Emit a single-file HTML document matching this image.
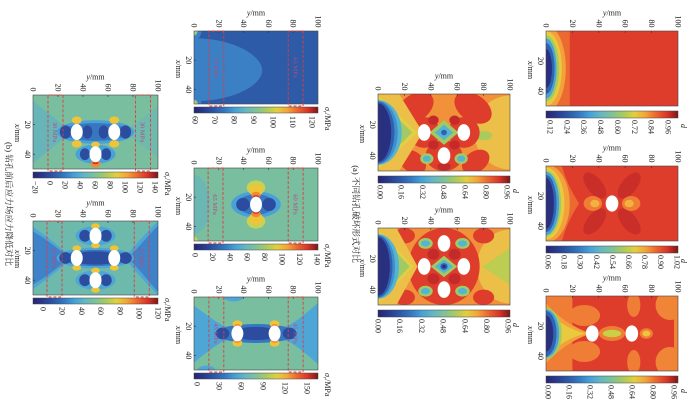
<!DOCTYPE html>
<html><head><meta charset="utf-8">
<style>
html,body{margin:0;padding:0;background:#fff;}
body{width:700px;height:406px;overflow:hidden;}
.t{font-family:"Liberation Serif",serif;font-size:8px;fill:#222;}
.bt{font-family:"Liberation Serif",serif;font-size:6.5px;fill:#b44b82;}
.cap{font-family:"Liberation Serif","Noto Serif CJK SC",serif;font-size:8.6px;fill:#222;}
</style></head><body>
<svg width="700" height="406" viewBox="0 0 700 406" xmlns="http://www.w3.org/2000/svg">
<defs>
<clipPath id="cp"><rect width="50" height="100"/></clipPath>
<linearGradient id="cb" x1="0" y1="1" x2="0" y2="0">
<stop offset="0" stop-color="#26246f"/><stop offset="0.08" stop-color="#2a3a8e"/><stop offset="0.17" stop-color="#2c5aa9"/><stop offset="0.25" stop-color="#3478c2"/><stop offset="0.33" stop-color="#45a0d8"/><stop offset="0.42" stop-color="#66b8c0"/><stop offset="0.5" stop-color="#7fc19a"/><stop offset="0.58" stop-color="#a6ca62"/><stop offset="0.67" stop-color="#e2cf3e"/><stop offset="0.75" stop-color="#f3a63a"/><stop offset="0.83" stop-color="#ec6a30"/><stop offset="0.92" stop-color="#d93329"/><stop offset="1" stop-color="#7a1818"/>
</linearGradient>
</defs>
<rect width="700" height="406" fill="#fff"/>
<g transform="translate(700,0) rotate(90)">

<!-- A1 -->
<g transform="translate(31,22)">
<g transform="scale(1.5,1.32)" clip-path="url(#cp)">
<rect width="50" height="100" fill="#de3d2c"/>
<rect y="82" width="50" height="18" fill="#ec6a31"/>
<ellipse cx="25" cy="100" rx="29" ry="15" fill="#f3a13b"/>
<ellipse cx="25" cy="100" rx="25" ry="12" fill="#e9c93e"/>
<ellipse cx="25" cy="100" rx="22" ry="10" fill="#a2ca64"/>
<ellipse cx="25" cy="100" rx="20" ry="8" fill="#48a2d8"/>
<ellipse cx="25" cy="100" rx="17" ry="6.5" fill="#2f62b0"/>
<ellipse cx="25" cy="100" rx="13" ry="4.5" fill="#29307f"/>
</g>
<rect width="75" height="132" fill="none" stroke="#444" stroke-width="0.6"/>
<path d="M0,105.6h2M0,79.2h2M0,52.8h2M0,26.4h2M30,132v-2M60,132v-2" stroke="#333" stroke-width="0.6"/>
<g class="t" text-anchor="end"><text x="-3.5" y="134.5">0</text><text x="-3.5" y="108.1">20</text><text x="-3.5" y="81.7">40</text><text x="-3.5" y="55.3">60</text><text x="-3.5" y="28.9">80</text><text x="-3.5" y="2.5">100</text></g>
<g class="t" text-anchor="middle"><text x="30" y="140">20</text><text x="60" y="140">40</text><text x="39" y="150"><tspan font-style="italic">x</tspan>/mm</text></g>
<text class="t" text-anchor="middle" transform="translate(-15.5,66) rotate(-90)"><tspan font-style="italic">y</tspan>/mm</text>
<rect x="80" width="7" height="132" fill="url(#cb)" stroke="#444" stroke-width="0.5"/>
<g class="t"><text x="89" y="130.5">0.12</text><text x="89" y="113.6">0.24</text><text x="89" y="96.8">0.36</text><text x="89" y="79.9">0.48</text><text x="89" y="63.1">0.60</text><text x="89" y="46.2">0.72</text><text x="89" y="29.3">0.84</text><text x="89" y="12.5">0.96</text><text x="93" y="-3" font-style="italic">d</text></g>
</g>

<!-- A2 -->
<g transform="translate(166,22)">
<g transform="scale(1.5,1.32)" clip-path="url(#cp)">
<rect width="50" height="100" fill="#de3d2c"/>
<ellipse cx="13" cy="63" rx="5.5" ry="11" fill="#c92e29" transform="rotate(45 13 63)"/>
<ellipse cx="37" cy="37" rx="5.5" ry="11" fill="#c92e29" transform="rotate(45 37 37)"/>
<ellipse cx="37" cy="63" rx="5.5" ry="11" fill="#c92e29" transform="rotate(-45 37 63)"/>
<ellipse cx="13" cy="37" rx="5.5" ry="11" fill="#c92e29" transform="rotate(-45 13 37)"/>
<ellipse cx="25" cy="64.5" rx="5" ry="7" fill="#ef7d35"/>
<ellipse cx="25" cy="35.5" rx="5" ry="7" fill="#ef7d35"/>
<ellipse cx="25" cy="63" rx="2.5" ry="3.5" fill="#f3b23e"/>
<ellipse cx="25" cy="37" rx="2.5" ry="3.5" fill="#f3b23e"/>
<path d="M0,100 L0,88 Q13,84 25,75 Q37,84 50,88 L50,100 Z" fill="#ec6a31"/>
<ellipse cx="25" cy="100" rx="26" ry="18" fill="#f3a13b"/>
<ellipse cx="25" cy="100" rx="24" ry="14" fill="#e9c93e"/>
<ellipse cx="25" cy="100" rx="22" ry="11.5" fill="#a2ca64"/>
<ellipse cx="25" cy="100" rx="21" ry="10" fill="#48a2d8"/>
<ellipse cx="25" cy="100" rx="19" ry="8" fill="#2f62b0"/>
<ellipse cx="25" cy="100" rx="17" ry="6" fill="#29307f"/>
<ellipse cx="25" cy="50" rx="5.4" ry="4.8" fill="#fff"/>
</g>
<rect width="75" height="132" fill="none" stroke="#444" stroke-width="0.6"/>
<path d="M0,105.6h2M0,79.2h2M0,52.8h2M0,26.4h2M30,132v-2M60,132v-2" stroke="#333" stroke-width="0.6"/>
<g class="t" text-anchor="end"><text x="-3.5" y="134.5">0</text><text x="-3.5" y="108.1">20</text><text x="-3.5" y="81.7">40</text><text x="-3.5" y="55.3">60</text><text x="-3.5" y="28.9">80</text><text x="-3.5" y="2.5">100</text></g>
<g class="t" text-anchor="middle"><text x="30" y="140">20</text><text x="60" y="140">40</text><text x="39" y="150"><tspan font-style="italic">x</tspan>/mm</text></g>
<text class="t" text-anchor="middle" transform="translate(-15.5,66) rotate(-90)"><tspan font-style="italic">y</tspan>/mm</text>
<rect x="80" width="7" height="132" fill="url(#cb)" stroke="#444" stroke-width="0.5"/>
<g class="t"><text x="89" y="132.5">0.06</text><text x="89" y="116.4">0.18</text><text x="89" y="100.3">0.30</text><text x="89" y="84.2">0.42</text><text x="89" y="68.1">0.54</text><text x="89" y="52">0.66</text><text x="89" y="35.9">0.78</text><text x="89" y="19.8">0.90</text><text x="89" y="3.7">1.02</text><text x="93" y="-3" font-style="italic">d</text></g>
</g>

<!-- A3 -->
<g transform="translate(296,22)">
<g transform="scale(1.5,1.32)" clip-path="url(#cp)">
<rect width="50" height="100" fill="#de3d2c"/>
<rect y="80" width="50" height="20" fill="#ef7d35"/>
<ellipse cx="13" cy="71" rx="7" ry="12" fill="#ef7d35"/>
<ellipse cx="37" cy="71" rx="7" ry="12" fill="#ef7d35"/>
<ellipse cx="6" cy="33.5" rx="8" ry="5" fill="#ef7d35"/>
<ellipse cx="44" cy="33.5" rx="8" ry="5" fill="#ef7d35"/>
<ellipse cx="6" cy="6" rx="10" ry="11" fill="#f08437"/>
<ellipse cx="44" cy="6" rx="10" ry="11" fill="#f08437"/>
<rect width="50" height="3" fill="#f08437"/>
<ellipse cx="25" cy="50" rx="5" ry="10" fill="#ef7d35"/>
<ellipse cx="25" cy="50" rx="2.5" ry="7" fill="#c9d046"/>
<ellipse cx="25" cy="24" rx="3.5" ry="5" fill="#ef7d35"/>
<ellipse cx="25" cy="24" rx="2" ry="3" fill="#ecc43e"/>
<path d="M5,100 Q19,86 25,66 Q31,86 45,100 Z" fill="#f3a13b"/>
<path d="M9,100 Q21,88 25,70 Q29,88 41,100 Z" fill="#e9c93e"/>
<ellipse cx="25" cy="100" rx="17" ry="12" fill="#a2ca64"/>
<ellipse cx="25" cy="100" rx="16" ry="10" fill="#48a2d8"/>
<ellipse cx="25" cy="100" rx="15" ry="8" fill="#2f62b0"/>
<ellipse cx="25" cy="100" rx="12" ry="5.5" fill="#29307f"/>
<ellipse cx="25" cy="65" rx="5.4" ry="4.8" fill="#fff"/>
<ellipse cx="25" cy="35" rx="5.4" ry="4.8" fill="#fff"/>
</g>
<rect width="75" height="132" fill="none" stroke="#444" stroke-width="0.6"/>
<path d="M0,105.6h2M0,79.2h2M0,52.8h2M0,26.4h2M30,132v-2M60,132v-2" stroke="#333" stroke-width="0.6"/>
<g class="t" text-anchor="end"><text x="-3.5" y="134.5">0</text><text x="-3.5" y="108.1">20</text><text x="-3.5" y="81.7">40</text><text x="-3.5" y="55.3">60</text><text x="-3.5" y="28.9">80</text><text x="-3.5" y="2.5">100</text></g>
<g class="t" text-anchor="middle"><text x="30" y="140">20</text><text x="60" y="140">40</text><text x="39" y="150"><tspan font-style="italic">x</tspan>/mm</text></g>
<text class="t" text-anchor="middle" transform="translate(-15.5,66) rotate(-90)"><tspan font-style="italic">y</tspan>/mm</text>
<rect x="80" width="7" height="132" fill="url(#cb)" stroke="#444" stroke-width="0.5"/>
<g class="t"><text x="89" y="132.5">0.00</text><text x="89" y="111.5">0.16</text><text x="89" y="90.5">0.32</text><text x="89" y="69.5">0.48</text><text x="89" y="48.5">0.64</text><text x="89" y="27.5">0.80</text><text x="89" y="6.5">0.96</text><text x="93" y="-3" font-style="italic">d</text></g>
</g>

<!-- A4 -->
<g transform="translate(94,190)">
<g transform="scale(1.54,1.32)" clip-path="url(#cp)">
<rect width="50" height="100" fill="#f1923b"/>
<ellipse cx="25" cy="0" rx="24" ry="27" fill="#ebbf48"/>
<ellipse cx="27" cy="20" rx="3" ry="6.5" fill="#a9cb5e"/>
<ellipse cx="9" cy="72" rx="9" ry="15" fill="#de3d2c" transform="rotate(-25 9 72)"/>
<ellipse cx="9" cy="28" rx="9" ry="15" fill="#de3d2c" transform="rotate(25 9 28)"/>
<ellipse cx="44" cy="74" rx="7" ry="11" fill="#de3d2c" transform="rotate(25 44 74)"/>
<ellipse cx="44" cy="26" rx="7" ry="11" fill="#de3d2c" transform="rotate(-25 44 26)"/>
<ellipse cx="25" cy="65" rx="10" ry="12" fill="#de3d2c"/>
<ellipse cx="25" cy="35" rx="10" ry="12" fill="#de3d2c"/>
<ellipse cx="40" cy="50" rx="10" ry="14" fill="#de3d2c"/>
<ellipse cx="17" cy="58" rx="3" ry="4" fill="#c42a29"/>
<ellipse cx="17" cy="42" rx="3" ry="4" fill="#c42a29"/>
<ellipse cx="33" cy="58" rx="3" ry="4" fill="#c42a29"/>
<ellipse cx="33" cy="42" rx="3" ry="4" fill="#c42a29"/>
<ellipse cx="47" cy="50" rx="2.5" ry="5" fill="#c42a29"/>
<path d="M25,39 L33,50 L25,61 L17,50 Z" fill="#a2ca64"/>
<path d="M25,43 L30,50 L25,57 L20,50 Z" fill="#55b4cf"/>
<ellipse cx="25" cy="50" rx="1.8" ry="2.2" fill="#2f62b0"/>
<ellipse cx="42" cy="63" rx="3.5" ry="5" fill="#a2ca64"/>
<ellipse cx="42" cy="63" rx="2" ry="3" fill="#55b4cf"/>
<ellipse cx="42" cy="37" rx="3.5" ry="5" fill="#a2ca64"/>
<ellipse cx="42" cy="37" rx="2" ry="3" fill="#55b4cf"/>
<path d="M0,100 L0,84 L25,66 L50,84 L50,100 Z" fill="#ebbf48"/>
<path d="M1,100 L25,70 L49,100 Z" fill="#e2cf45"/>
<path d="M3,100 L25,74 L47,100 Z" fill="#a2ca64"/>
<ellipse cx="25" cy="100" rx="21" ry="18" fill="#55b4cf"/>
<ellipse cx="25" cy="100" rx="20.5" ry="15" fill="#3f8fd0"/>
<ellipse cx="25" cy="100" rx="20" ry="12.5" fill="#2f5fae"/>
<ellipse cx="25" cy="100" rx="19" ry="10" fill="#29307f"/>
<ellipse cx="25" cy="65" rx="5.4" ry="4.8" fill="#fff"/>
<ellipse cx="25" cy="35" rx="5.4" ry="4.8" fill="#fff"/>
<ellipse cx="40" cy="50" rx="5.4" ry="4.8" fill="#fff"/>
</g>
<rect width="77" height="132" fill="none" stroke="#444" stroke-width="0.6"/>
<path d="M0,105.6h2M0,79.2h2M0,52.8h2M0,26.4h2M30.8,132v-2M61.6,132v-2" stroke="#333" stroke-width="0.6"/>
<g class="t" text-anchor="end"><text x="-3.5" y="134.5">0</text><text x="-3.5" y="108.1">20</text><text x="-3.5" y="81.7">40</text><text x="-3.5" y="55.3">60</text><text x="-3.5" y="28.9">80</text><text x="-3.5" y="2.5">100</text></g>
<g class="t" text-anchor="middle"><text x="30.8" y="140">20</text><text x="61.6" y="140">40</text><text x="40" y="150"><tspan font-style="italic">x</tspan>/mm</text></g>
<text class="t" text-anchor="middle" transform="translate(-15.5,66) rotate(-90)"><tspan font-style="italic">y</tspan>/mm</text>
<rect x="82" width="7" height="132" fill="url(#cb)" stroke="#444" stroke-width="0.5"/>
<g class="t"><text x="91" y="132.5">0.00</text><text x="91" y="111.3">0.16</text><text x="91" y="90.1">0.32</text><text x="91" y="68.9">0.48</text><text x="91" y="47.7">0.64</text><text x="91" y="26.5">0.80</text><text x="91" y="5.3">0.96</text><text x="95" y="-3" font-style="italic">d</text></g>
</g>

<!-- A5 -->
<g transform="translate(228,190)">
<g transform="scale(1.54,1.32)" clip-path="url(#cp)">
<rect width="50" height="100" fill="#f1923b"/>
<ellipse cx="25" cy="0" rx="24" ry="25" fill="#ebbf48"/>
<path d="M13,0 L37,0 L25,21 Z" fill="#bccd52"/>
<ellipse cx="25" cy="50" rx="25" ry="27" fill="#de3d2c"/>
<ellipse cx="5" cy="80" rx="5" ry="8" fill="#de3d2c"/>
<ellipse cx="45" cy="80" rx="5" ry="8" fill="#de3d2c"/>
<ellipse cx="5" cy="20" rx="5" ry="8" fill="#de3d2c"/>
<ellipse cx="45" cy="20" rx="5" ry="8" fill="#de3d2c"/>
<ellipse cx="17" cy="58" rx="3.5" ry="4.5" fill="#c42a29"/>
<ellipse cx="33" cy="58" rx="3.5" ry="4.5" fill="#c42a29"/>
<ellipse cx="17" cy="42" rx="3.5" ry="4.5" fill="#c42a29"/>
<ellipse cx="33" cy="42" rx="3.5" ry="4.5" fill="#c42a29"/>
<path d="M25,40 L32,50 L25,60 L18,50 Z" fill="#a2ca64"/>
<path d="M25,43 L29.5,50 L25,57 L20.5,50 Z" fill="#55b4cf"/>
<ellipse cx="25" cy="50" rx="2.2" ry="2.8" fill="#2f62b0"/>
<ellipse cx="25" cy="50" rx="1.1" ry="1.4" fill="#29307f"/>
<ellipse cx="10" cy="64" rx="3.5" ry="5.5" fill="#a2ca64"/>
<ellipse cx="10" cy="64" rx="2" ry="3.5" fill="#55b4cf"/>
<ellipse cx="10" cy="36" rx="3.5" ry="5.5" fill="#a2ca64"/>
<ellipse cx="10" cy="36" rx="2" ry="3.5" fill="#55b4cf"/>
<ellipse cx="41" cy="64" rx="3.5" ry="5.5" fill="#a2ca64"/>
<ellipse cx="41" cy="64" rx="2" ry="3.5" fill="#55b4cf"/>
<ellipse cx="41" cy="36" rx="3.5" ry="5.5" fill="#a2ca64"/>
<ellipse cx="41" cy="36" rx="2" ry="3.5" fill="#55b4cf"/>
<path d="M0,100 L0,86 L25,70 L50,86 L50,100 Z" fill="#ebbf48"/>
<path d="M1,100 L25,73 L49,100 Z" fill="#e2cf45"/>
<path d="M3,100 L25,76 L47,100 Z" fill="#a2ca64"/>
<ellipse cx="25" cy="100" rx="21" ry="16" fill="#55b4cf"/>
<ellipse cx="25" cy="100" rx="20.5" ry="13" fill="#3f8fd0"/>
<ellipse cx="25" cy="100" rx="20" ry="11" fill="#2f5fae"/>
<ellipse cx="25" cy="100" rx="19" ry="9" fill="#29307f"/>
<ellipse cx="10" cy="50" rx="5.4" ry="4.8" fill="#fff"/>
<ellipse cx="25" cy="65" rx="5.4" ry="4.8" fill="#fff"/>
<ellipse cx="25" cy="35" rx="5.4" ry="4.8" fill="#fff"/>
<ellipse cx="40" cy="50" rx="5.4" ry="4.8" fill="#fff"/>
</g>
<rect width="77" height="132" fill="none" stroke="#444" stroke-width="0.6"/>
<path d="M0,105.6h2M0,79.2h2M0,52.8h2M0,26.4h2M30.8,132v-2M61.6,132v-2" stroke="#333" stroke-width="0.6"/>
<g class="t" text-anchor="end"><text x="-3.5" y="134.5">0</text><text x="-3.5" y="108.1">20</text><text x="-3.5" y="81.7">40</text><text x="-3.5" y="55.3">60</text><text x="-3.5" y="28.9">80</text><text x="-3.5" y="2.5">100</text></g>
<g class="t" text-anchor="middle"><text x="30.8" y="140">20</text><text x="61.6" y="140">40</text><text x="40" y="150"><tspan font-style="italic">x</tspan>/mm</text></g>
<text class="t" text-anchor="middle" transform="translate(-15.5,66) rotate(-90)"><tspan font-style="italic">y</tspan>/mm</text>
<rect x="82" width="7" height="132" fill="url(#cb)" stroke="#444" stroke-width="0.5"/>
<g class="t"><text x="91" y="134.5">0.00</text><text x="91" y="112.8">0.16</text><text x="91" y="91.1">0.32</text><text x="91" y="69.4">0.48</text><text x="91" y="47.7">0.64</text><text x="91" y="26">0.80</text><text x="91" y="4.3">0.96</text><text x="95" y="-3" font-style="italic">d</text></g>
</g>

<text class="cap" x="214" y="347" text-anchor="middle">(a) 不同钻孔破坏形式对比</text>

<!-- B1 -->
<g transform="translate(31,382)">
<g transform="scale(1.46,1.24)" clip-path="url(#cp)">
<rect width="50" height="100" fill="#2d5ba8"/>
<path d="M5,100 C5,68 17,45 27,45 C37,45 48,68 48,100 Z" fill="#3b7fc5"/>
<ellipse cx="0" cy="100" rx="6" ry="6" fill="#3b7fc5"/>
<ellipse cx="50" cy="100" rx="6" ry="6" fill="#3b7fc5"/>
<ellipse cx="0" cy="100" rx="3" ry="3" fill="#8fc8a0"/>
<ellipse cx="50" cy="100" rx="3" ry="3" fill="#8fc8a0"/>
<ellipse cx="0" cy="100" rx="1.5" ry="1.5" fill="#e8c840"/>
<ellipse cx="50" cy="100" rx="1.5" ry="1.5" fill="#e8c840"/>
</g>
<rect width="73" height="124" fill="none" stroke="#444" stroke-width="0.6"/>
<path d="M0,99.2h2M0,74.4h2M0,49.6h2M0,24.8h2M29.2,124v-2M58.4,124v-2" stroke="#333" stroke-width="0.6"/>
<g fill="none" stroke="#e23b3b" stroke-width="0.9" stroke-dasharray="3 1.8"><rect x="0" y="94.2" width="75" height="14.9"/><rect x="0" y="14.9" width="75" height="14.9"/></g>
<g class="bt" text-anchor="middle"><text x="36.5" y="104">75 MPa</text><text x="36.5" y="24.7">65 MPa</text></g>
<g class="t" text-anchor="end"><text x="-3.5" y="126.5">0</text><text x="-3.5" y="101.7">20</text><text x="-3.5" y="76.9">40</text><text x="-3.5" y="52.1">60</text><text x="-3.5" y="27.3">80</text><text x="-3.5" y="2.5">100</text></g>
<g class="t" text-anchor="middle"><text x="29.2" y="132">20</text><text x="58.4" y="132">40</text><text x="38" y="142"><tspan font-style="italic">x</tspan>/mm</text></g>
<text class="t" text-anchor="middle" transform="translate(-15.5,62) rotate(-90)"><tspan font-style="italic">y</tspan>/mm</text>
<rect x="76" width="6" height="124" fill="url(#cb)" stroke="#444" stroke-width="0.5"/>
<g class="t"><text x="85" y="125.5">60</text><text x="85" y="106">70</text><text x="85" y="86.5">80</text><text x="85" y="67">90</text><text x="85" y="47.5">100</text><text x="85" y="28">110</text><text x="85" y="8.5">120</text>
<text x="76" y="-7"><tspan font-style="italic">σ</tspan><tspan font-size="5.5" dy="1.5" font-style="italic">r</tspan><tspan dy="-1.5">/MPa</tspan></text></g>
</g>

<!-- B2 -->
<g transform="translate(168,382)">
<g transform="scale(1.46,1.24)" clip-path="url(#cp)">
<rect width="50" height="100" fill="#78be9f"/>
<ellipse cx="25" cy="100" rx="20" ry="13" fill="#6bb7b3"/>
<ellipse cx="50" cy="100" rx="3" ry="3" fill="#c9d152"/>
<ellipse cx="25" cy="50" rx="9" ry="20" fill="#4aa1d8"/>
<ellipse cx="25" cy="50" rx="7" ry="15" fill="#3677c0"/>
<ellipse cx="25" cy="39.5" rx="4.5" ry="5.5" fill="#2b4c9f"/>
<ellipse cx="25" cy="60.5" rx="4.5" ry="5.5" fill="#2b4c9f"/>
<ellipse cx="13.5" cy="50" rx="5" ry="7.5" fill="#c9d152"/>
<ellipse cx="15.5" cy="50" rx="4" ry="5.5" fill="#eec43a"/>
<ellipse cx="18.5" cy="50" rx="2.2" ry="3.8" fill="#f08a36"/>
<ellipse cx="19.8" cy="50" rx="1.2" ry="2.6" fill="#d63328"/>
<ellipse cx="36.5" cy="50" rx="5" ry="7.5" fill="#c9d152"/>
<ellipse cx="34.5" cy="50" rx="4" ry="5.5" fill="#eec43a"/>
<ellipse cx="31.5" cy="50" rx="2.2" ry="3.8" fill="#f08a36"/>
<ellipse cx="30.2" cy="50" rx="1.2" ry="2.6" fill="#d63328"/>
<ellipse cx="25" cy="50" rx="5.4" ry="4.8" fill="#fff"/>
</g>
<rect width="73" height="124" fill="none" stroke="#444" stroke-width="0.6"/>
<path d="M0,99.2h2M0,74.4h2M0,49.6h2M0,24.8h2M29.2,124v-2M58.4,124v-2" stroke="#333" stroke-width="0.6"/>
<g fill="none" stroke="#e23b3b" stroke-width="0.9" stroke-dasharray="3 1.8"><rect x="0" y="95" width="75" height="14.9"/><rect x="0" y="14.9" width="75" height="14.9"/></g>
<g class="bt" text-anchor="middle"><text x="36.5" y="104.8">65 MPa</text><text x="36.5" y="24.7">60 MPa</text></g>
<g class="t" text-anchor="end"><text x="-3.5" y="126.5">0</text><text x="-3.5" y="101.7">20</text><text x="-3.5" y="76.9">40</text><text x="-3.5" y="52.1">60</text><text x="-3.5" y="27.3">80</text><text x="-3.5" y="2.5">100</text></g>
<g class="t" text-anchor="middle"><text x="29.2" y="132">20</text><text x="58.4" y="132">40</text><text x="38" y="142"><tspan font-style="italic">x</tspan>/mm</text></g>
<text class="t" text-anchor="middle" transform="translate(-15.5,62) rotate(-90)"><tspan font-style="italic">y</tspan>/mm</text>
<rect x="76" width="6" height="124" fill="url(#cb)" stroke="#444" stroke-width="0.5"/>
<g class="t"><text x="85" y="125.5">0</text><text x="85" y="108.1">20</text><text x="85" y="90.7">40</text><text x="85" y="73.3">60</text><text x="85" y="55.9">80</text><text x="85" y="38.5">100</text><text x="85" y="21.1">120</text><text x="85" y="3.7">140</text>
<text x="76" y="-7"><tspan font-style="italic">σ</tspan><tspan font-size="5.5" dy="1.5" font-style="italic">r</tspan><tspan dy="-1.5">/MPa</tspan></text></g>
</g>

<!-- B3 -->
<g transform="translate(297,382)">
<g transform="scale(1.46,1.24)" clip-path="url(#cp)">
<rect width="50" height="100" fill="#78be9f"/>
<path d="M6,100 C12,90 19,80 21,72 L21,28 C19,20 10,8 4,0 L46,0 C40,8 31,20 29,28 L29,72 C31,80 38,90 45,100 Z" fill="#4ea6d6"/>
<ellipse cx="0" cy="68" rx="3" ry="8" fill="#4ea6d6"/>
<ellipse cx="50" cy="90" rx="3" ry="7" fill="#4ea6d6"/>
<ellipse cx="25" cy="50" rx="6.5" ry="33" fill="#3677c0"/>
<ellipse cx="25" cy="50" rx="4.5" ry="19" fill="#2b4c9f"/>
<ellipse cx="25" cy="77" rx="4" ry="5.5" fill="#2b4c9f"/>
<ellipse cx="25" cy="23" rx="4" ry="5.5" fill="#2b4c9f"/>
<ellipse cx="18.5" cy="65" rx="2.5" ry="4" fill="#eec43a"/>
<ellipse cx="31.5" cy="65" rx="2.5" ry="4" fill="#eec43a"/>
<ellipse cx="18.5" cy="35" rx="2.5" ry="4" fill="#eec43a"/>
<ellipse cx="31.5" cy="35" rx="2.5" ry="4" fill="#eec43a"/>
<ellipse cx="19.7" cy="65" rx="1.2" ry="2.5" fill="#f08a36"/>
<ellipse cx="30.3" cy="65" rx="1.2" ry="2.5" fill="#f08a36"/>
<ellipse cx="19.7" cy="35" rx="1.2" ry="2.5" fill="#f08a36"/>
<ellipse cx="30.3" cy="35" rx="1.2" ry="2.5" fill="#f08a36"/>
<ellipse cx="25" cy="65" rx="5.4" ry="4.8" fill="#fff"/>
<ellipse cx="25" cy="35" rx="5.4" ry="4.8" fill="#fff"/>
</g>
<rect width="73" height="124" fill="none" stroke="#444" stroke-width="0.6"/>
<path d="M0,99.2h2M0,74.4h2M0,49.6h2M0,24.8h2M29.2,124v-2M58.4,124v-2" stroke="#333" stroke-width="0.6"/>
<g fill="none" stroke="#e23b3b" stroke-width="0.9" stroke-dasharray="3 1.8"><rect x="0" y="94.2" width="75" height="14.9"/><rect x="0" y="14.9" width="75" height="14.9"/></g>
<g class="bt" text-anchor="middle"><text x="36.5" y="104">45 MPa</text><text x="36.5" y="24.7">45 MPa</text></g>
<g class="t" text-anchor="end"><text x="-3.5" y="126.5">0</text><text x="-3.5" y="101.7">20</text><text x="-3.5" y="76.9">40</text><text x="-3.5" y="52.1">60</text><text x="-3.5" y="27.3">80</text><text x="-3.5" y="2.5">100</text></g>
<g class="t" text-anchor="middle"><text x="29.2" y="132">20</text><text x="58.4" y="132">40</text><text x="38" y="142"><tspan font-style="italic">x</tspan>/mm</text></g>
<text class="t" text-anchor="middle" transform="translate(-15.5,62) rotate(-90)"><tspan font-style="italic">y</tspan>/mm</text>
<rect x="76" width="6" height="124" fill="url(#cb)" stroke="#444" stroke-width="0.5"/>
<g class="t"><text x="85" y="123.5">0</text><text x="85" y="101.5">30</text><text x="85" y="79.5">60</text><text x="85" y="57.5">90</text><text x="85" y="35.5">120</text><text x="85" y="13.5">150</text>
<text x="76" y="-7"><tspan font-style="italic">σ</tspan><tspan font-size="5.5" dy="1.5" font-style="italic">r</tspan><tspan dy="-1.5">/MPa</tspan></text></g>
</g>

<!-- B4 -->
<g transform="translate(95,542)">
<g transform="scale(1.48,1.25)" clip-path="url(#cp)">
<rect width="50" height="100" fill="#78be9f"/>
<path d="M4,100 C12,88 20,76 25,70 C30,76 38,88 46,100 Z" fill="#67b5b8"/>
<path d="M8,0 C14,10 20,20 25,26 C30,20 36,10 42,0 Z" fill="#6fb9ad"/>
<ellipse cx="25" cy="50" rx="8" ry="31" fill="#4aa1d8"/>
<ellipse cx="25" cy="50" rx="6" ry="27" fill="#3677c0"/>
<ellipse cx="25" cy="74" rx="4.5" ry="4.5" fill="#2b4c9f"/>
<ellipse cx="25" cy="56.5" rx="4.5" ry="4" fill="#2b4c9f"/>
<ellipse cx="25" cy="43.5" rx="4.5" ry="4" fill="#2b4c9f"/>
<ellipse cx="25" cy="26" rx="4.5" ry="4.5" fill="#2b4c9f"/>
<ellipse cx="40" cy="50" rx="6.5" ry="16" fill="#4aa1d8"/>
<ellipse cx="40" cy="58.5" rx="4" ry="4" fill="#2b4c9f"/>
<ellipse cx="40" cy="41.5" rx="4" ry="4" fill="#2b4c9f"/>
<ellipse cx="17" cy="65" rx="2.5" ry="4" fill="#eec43a"/>
<ellipse cx="17" cy="35" rx="2.5" ry="4" fill="#eec43a"/>
<ellipse cx="33" cy="65" rx="2.5" ry="4" fill="#eec43a"/>
<ellipse cx="33" cy="35" rx="2.5" ry="4" fill="#eec43a"/>
<ellipse cx="33.5" cy="50" rx="2" ry="3.5" fill="#eec43a"/>
<ellipse cx="46.5" cy="50" rx="2.5" ry="4" fill="#f08a36"/>
<ellipse cx="45.8" cy="50" rx="1" ry="2.5" fill="#d63328"/>
<ellipse cx="25" cy="65" rx="5.4" ry="4.8" fill="#fff"/>
<ellipse cx="25" cy="35" rx="5.4" ry="4.8" fill="#fff"/>
<ellipse cx="40" cy="50" rx="5.4" ry="4.8" fill="#fff"/>
</g>
<rect width="74" height="125" fill="none" stroke="#444" stroke-width="0.6"/>
<path d="M0,100h2M0,75h2M0,50h2M0,25h2M29.6,125v-2M59.2,125v-2" stroke="#333" stroke-width="0.6"/>
<g fill="none" stroke="#e23b3b" stroke-width="0.9" stroke-dasharray="3 1.8"><rect x="0" y="95" width="76" height="15"/><rect x="0" y="7.5" width="76" height="15"/></g>
<g class="bt" text-anchor="middle"><text x="37" y="104.8">30 MPa</text><text x="37" y="17.3">30 MPa</text></g>
<g class="t" text-anchor="end"><text x="-3.5" y="127.5">0</text><text x="-3.5" y="102.5">20</text><text x="-3.5" y="77.5">40</text><text x="-3.5" y="52.5">60</text><text x="-3.5" y="27.5">80</text><text x="-3.5" y="2.5">100</text></g>
<g class="t" text-anchor="middle"><text x="29.6" y="133">20</text><text x="59.2" y="133">40</text><text x="38" y="143"><tspan font-style="italic">x</tspan>/mm</text></g>
<text class="t" text-anchor="middle" transform="translate(-15.5,62.5) rotate(-90)"><tspan font-style="italic">y</tspan>/mm</text>
<rect x="77" width="6" height="125" fill="url(#cb)" stroke="#444" stroke-width="0.5"/>
<g class="t"><text x="86" y="125.5">−20</text><text x="86" y="110.5">0</text><text x="86" y="95.5">20</text><text x="86" y="80.5">40</text><text x="86" y="65.5">60</text><text x="86" y="50.5">80</text><text x="86" y="35.5">100</text><text x="86" y="20.5">120</text><text x="86" y="5.5">140</text>
<text x="77" y="-7"><tspan font-style="italic">σ</tspan><tspan font-size="5.5" dy="1.5" font-style="italic">r</tspan><tspan dy="-1.5">/MPa</tspan></text></g>
</g>

<!-- B5 -->
<g transform="translate(221,542)">
<g transform="scale(1.48,1.25)" clip-path="url(#cp)">
<rect width="50" height="100" fill="#6db9ac"/>
<path d="M4,100 C12,86 20,76 25,68 C30,76 38,86 46,100 Z" fill="#4ea6d6"/>
<path d="M7,100 C13,88 20,78 25,71 C30,78 37,88 43,100 Z" fill="#3f82c7"/>
<path d="M0,0 C10,12 19,21 25,27 C31,21 40,12 50,0 Z" fill="#4ea6d6"/>
<path d="M3,0 C12,10 20,18 25,24 C30,18 38,10 48,0 Z" fill="#3f82c7"/>
<ellipse cx="25" cy="50" rx="7" ry="31" fill="#4ea6d6"/>
<ellipse cx="25" cy="50" rx="5.5" ry="27" fill="#3677c0"/>
<ellipse cx="25" cy="50" rx="4.5" ry="20" fill="#2b4c9f"/>
<ellipse cx="25" cy="74" rx="4" ry="5" fill="#2b4c9f"/>
<ellipse cx="25" cy="26" rx="4" ry="5" fill="#2b4c9f"/>
<ellipse cx="10" cy="50" rx="6.5" ry="16" fill="#4ea6d6"/>
<ellipse cx="40" cy="50" rx="6.5" ry="16" fill="#4ea6d6"/>
<ellipse cx="10" cy="58.5" rx="4" ry="4.5" fill="#2b4c9f"/>
<ellipse cx="10" cy="41.5" rx="4" ry="4.5" fill="#2b4c9f"/>
<ellipse cx="40" cy="58.5" rx="4" ry="4.5" fill="#2b4c9f"/>
<ellipse cx="40" cy="41.5" rx="4" ry="4.5" fill="#2b4c9f"/>
<ellipse cx="3.5" cy="50" rx="2" ry="3.5" fill="#eec43a"/>
<ellipse cx="16.5" cy="50" rx="2" ry="3.5" fill="#eec43a"/>
<ellipse cx="33.5" cy="50" rx="2" ry="3.5" fill="#eec43a"/>
<ellipse cx="46.5" cy="50" rx="2" ry="3.5" fill="#eec43a"/>
<ellipse cx="18.5" cy="65" rx="2" ry="3.5" fill="#eec43a"/>
<ellipse cx="31.5" cy="65" rx="2" ry="3.5" fill="#eec43a"/>
<ellipse cx="18.5" cy="35" rx="2" ry="3.5" fill="#eec43a"/>
<ellipse cx="31.5" cy="35" rx="2" ry="3.5" fill="#eec43a"/>
<ellipse cx="10" cy="50" rx="5.4" ry="4.8" fill="#fff"/>
<ellipse cx="25" cy="65" rx="5.4" ry="4.8" fill="#fff"/>
<ellipse cx="25" cy="35" rx="5.4" ry="4.8" fill="#fff"/>
<ellipse cx="40" cy="50" rx="5.4" ry="4.8" fill="#fff"/>
</g>
<rect width="74" height="125" fill="none" stroke="#444" stroke-width="0.6"/>
<path d="M0,100h2M0,75h2M0,50h2M0,25h2M29.6,125v-2M59.2,125v-2" stroke="#333" stroke-width="0.6"/>
<g fill="none" stroke="#e23b3b" stroke-width="0.9" stroke-dasharray="3 1.8"><rect x="0" y="96" width="76" height="15"/><rect x="0" y="8.75" width="76" height="15"/></g>
<g class="bt" text-anchor="middle"><text x="37" y="105.8">25 MPa</text><text x="37" y="18.5">25 MPa</text></g>
<g class="t" text-anchor="end"><text x="-3.5" y="127.5">0</text><text x="-3.5" y="102.5">20</text><text x="-3.5" y="77.5">40</text><text x="-3.5" y="52.5">60</text><text x="-3.5" y="27.5">80</text><text x="-3.5" y="2.5">100</text></g>
<g class="t" text-anchor="middle"><text x="29.6" y="133">20</text><text x="59.2" y="133">40</text><text x="38" y="143"><tspan font-style="italic">x</tspan>/mm</text></g>
<text class="t" text-anchor="middle" transform="translate(-15.5,62.5) rotate(-90)"><tspan font-style="italic">y</tspan>/mm</text>
<rect x="77" width="6" height="125" fill="url(#cb)" stroke="#444" stroke-width="0.5"/>
<g class="t"><text x="86" y="117.5">0</text><text x="86" y="98.3">20</text><text x="86" y="79.1">40</text><text x="86" y="59.9">60</text><text x="86" y="40.7">80</text><text x="86" y="21.5">100</text><text x="86" y="2.3">120</text>
<text x="77" y="-7"><tspan font-style="italic">σ</tspan><tspan font-size="5.5" dy="1.5" font-style="italic">r</tspan><tspan dy="-1.5">/MPa</tspan></text></g>
</g>

<text class="cap" x="204" y="694" text-anchor="middle">(b) 钻孔前后应力场应力降低对比</text>

</g>
</svg>
</body></html>
